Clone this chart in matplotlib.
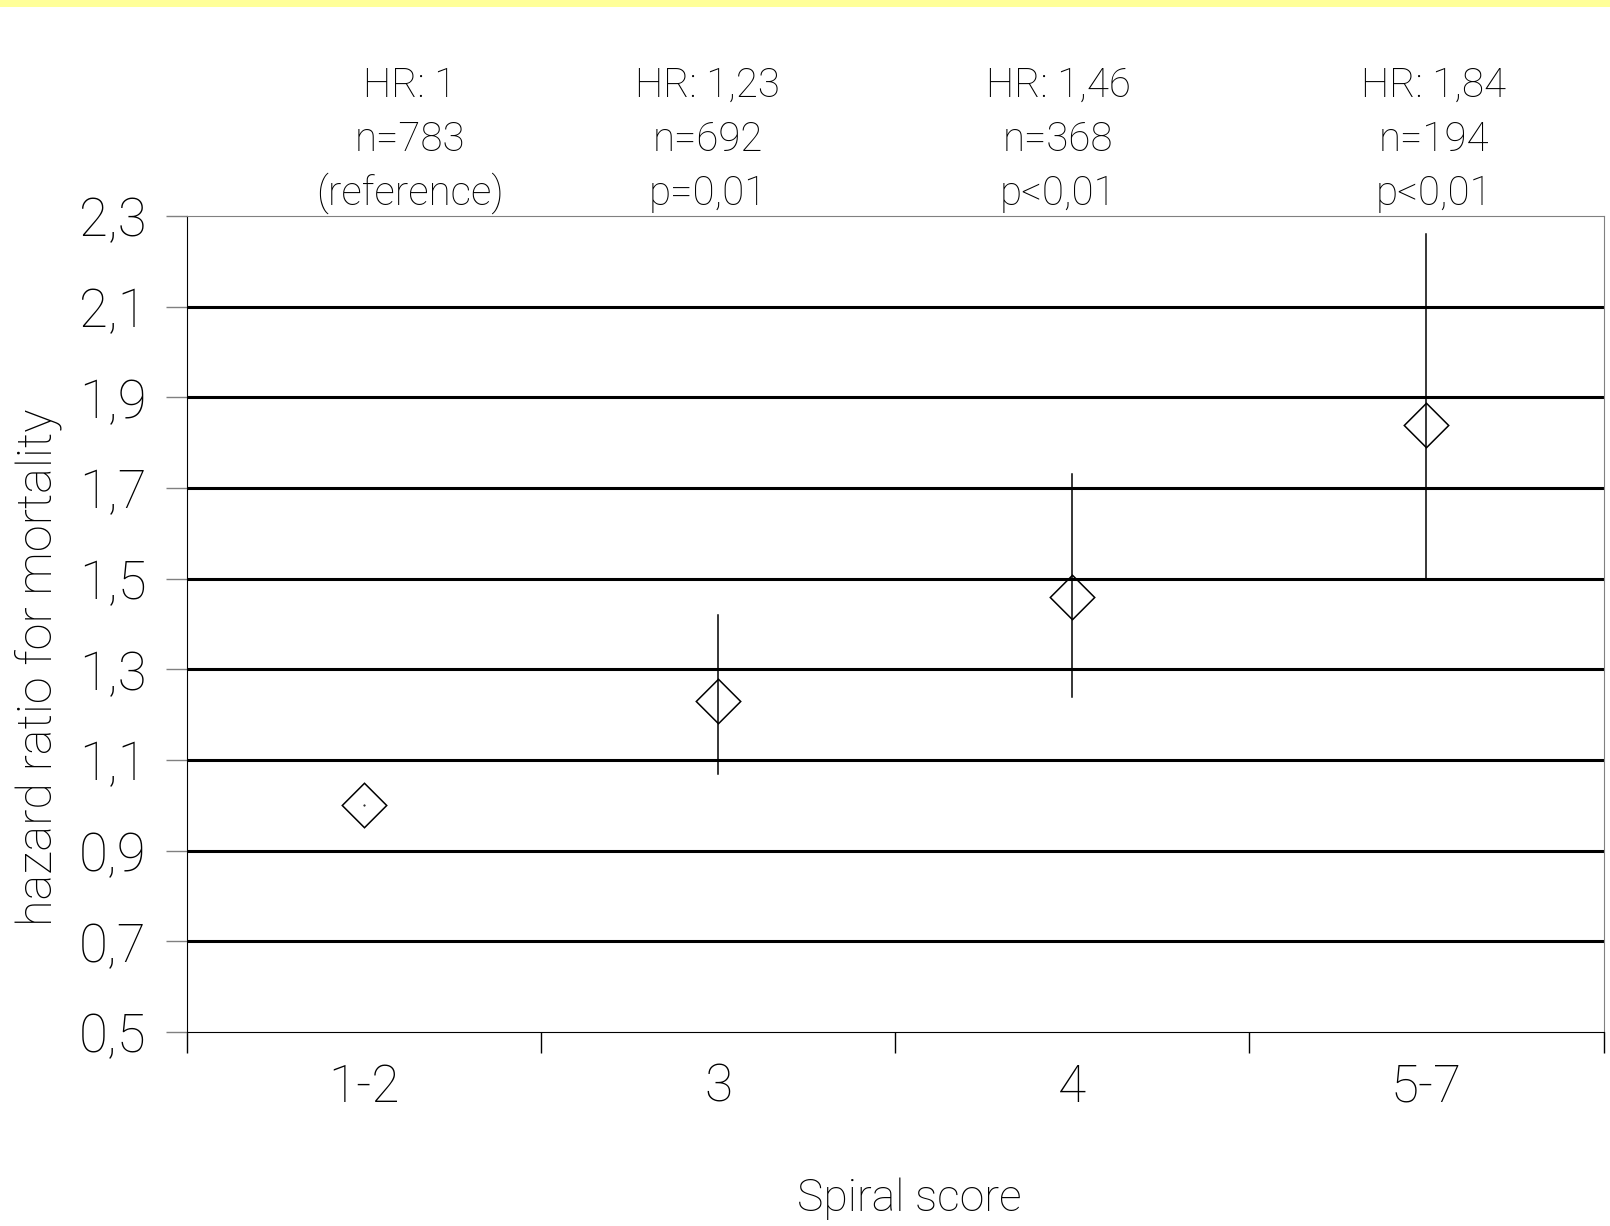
import matplotlib
matplotlib.use("Agg")
import matplotlib.pyplot as plt
from matplotlib.patches import Rectangle

plt.rcParams['font.family'] = ['Roboto', 'DejaVu Sans']
plt.rcParams['font.weight'] = 'light'

# data
categories = ['1-2', '3', '4', '5-7']
hr = [1.0, 1.23, 1.46, 1.84]
ci_low = [1.0, 1.07, 1.24, 1.50]
ci_high = [1.0, 1.42, 1.73, 2.26]
hr_text = ['HR: 1', 'HR: 1,23', 'HR: 1,46', 'HR: 1,84']
n_text = ['n=783', 'n=692', 'n=368', 'n=194']
p_text = ['(reference)', 'p=0,01', 'p<0,01', 'p<0,01']
yticks = [0.5, 0.7, 0.9, 1.1, 1.3, 1.5, 1.7, 1.9, 2.1, 2.3]
ytick_labels = ['0,5', '0,7', '0,9', '1,1', '1,3', '1,5', '1,7', '1,9', '2,1', '2,3']

# where the header text sits (offset from category centre)
label_x = [0.13, 0.97, 1.96, 3.02]

fig = plt.figure(figsize=(16.1, 12.26), dpi=100)
fig.patches.append(Rectangle((0, 1 - 7 / 1226), 1, 7 / 1226, transform=fig.transFigure,
                             facecolor='#ffff99', edgecolor='none'))

ax = fig.add_axes([0.116, 0.1582, 0.88, 0.6656])
x = list(range(len(categories)))

# gridlines
for y in yticks[1:-1]:
    ax.axhline(y, color='black', lw=2.2, zorder=1)

# error bars
for i in x:
    if ci_high[i] > ci_low[i]:
        ax.plot([i, i], [ci_low[i], ci_high[i]], color='black', lw=1.1, zorder=2)
ax.plot(x, hr, linestyle='none', marker=(4, 0, 0), markersize=32,
        markerfacecolor='none', markeredgecolor='black', markeredgewidth=1.1, zorder=3)
ax.plot([0], [hr[0]], linestyle='none', marker='.', markersize=1, color='black')

ax.set_xlim(-0.5, 3.5)
ax.set_ylim(0.5, 2.3)
ax.set_yticks(yticks)
ax.set_yticklabels(ytick_labels, fontsize=38)
ax.tick_params(axis='y', length=15, width=1, color='#808080', pad=14)

ax.set_xticks([-0.5, 0.5, 1.5, 2.5, 3.5])
ax.set_xticklabels([])
ax.tick_params(axis='x', direction='out', length=15, width=1)
ax.set_xticks(x, minor=True)
ax.set_xticklabels(categories, minor=True, fontsize=37)
ax.tick_params(axis='x', which='minor', length=0, pad=22)

for s in ['top', 'right']:
    ax.spines[s].set_color('#808080')
for s in ['left', 'bottom']:
    ax.spines[s].set_color('black')

for i in x:
    ax.text(label_x[i], 2.3 + 0.288, hr_text[i], ha='center', va='center', fontsize=29)
    ax.text(label_x[i], 2.3 + 0.169, n_text[i], ha='center', va='center', fontsize=29)
    ax.text(label_x[i], 2.3 + 0.050, p_text[i], ha='center', va='center', fontsize=29)

fig.text(38 / 1610, 1 - 667 / 1226, 'hazard ratio for mortality', rotation=90,
         ha='center', va='center', fontsize=35)
fig.text(909 / 1610, 1 - 1199 / 1226, 'Spiral score', ha='center', va='center', fontsize=32)

fig.savefig('out.png', dpi=100)
